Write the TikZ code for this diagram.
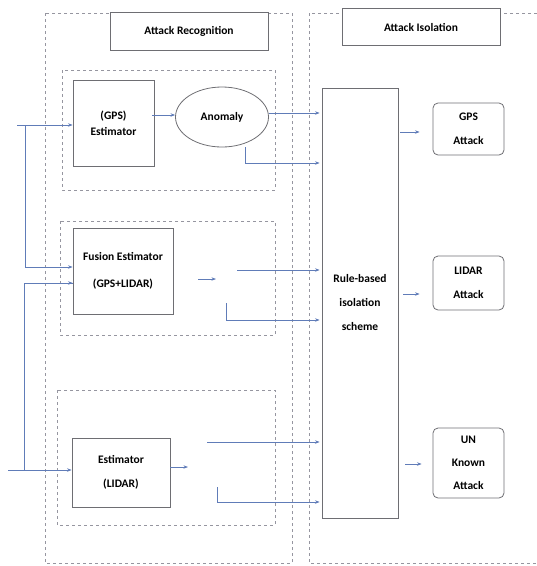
\documentclass[tikz,border=0pt]{standalone}
\usepackage{fontspec}
\setmainfont{Carlito}
\usepackage{xcolor}
\usepackage{tikz}
\usetikzlibrary{positioning,arrows.meta,calc,shapes.geometric}

\definecolor{lnblue}{RGB}{96,124,184}
\definecolor{boxgray}{RGB}{110,110,115}
\definecolor{dashgray}{RGB}{150,150,160}

\begin{document}
\begin{tikzpicture}[
  x=1pt, y=-1pt,
  block/.style={draw=boxgray, line width=0.8pt, font=\fontsize{11.5}{24}\selectfont\bfseries,
                align=center, inner sep=0pt},
  atk/.style={block, rounded corners=5pt},
  dbox/.style={draw=dashgray, dashed, line width=0.6pt},
  arr/.style={-{Stealth[length=1.6mm,width=1.2mm]}, draw=lnblue, line width=0.7pt},
  ln/.style={draw=lnblue, line width=0.7pt},
]
  \useasboundingbox (0,0) rectangle (537,566);

  % dashed frames
  \draw[dbox] (45,13) rectangle (292,563);
  \draw[dbox] (309,13) rectangle (560,563);
  \draw[dbox] (62,70) rectangle (275,190);
  \draw[dbox] (60,221) rectangle (275,335);
  \draw[dbox] (57,390) rectangle (275,525);

  % titles
  \node[block, fill=white, minimum width=158pt, minimum height=38pt] (recog) at (189,31) {Attack Recognition};
  \node[block, fill=white, minimum width=158pt, minimum height=37pt] (isol) at (421,27) {Attack Isolation};

  % estimators
  \node[block, minimum width=81pt, minimum height=86pt, font=\fontsize{11.5}{16}\selectfont\bfseries] (gpsest) at (113.5,123) {(GPS)\\Estimator};
  \node[block, ellipse, minimum width=93pt, minimum height=60pt] (anomaly) at (222,117) {Anomaly};
  \node[block, minimum width=100pt, minimum height=86pt, font=\fontsize{11.5}{27}\selectfont\bfseries] (fusion) at (123,271) {Fusion Estimator\\(GPS+LIDAR)};
  \node[block, minimum width=98pt, minimum height=69pt] (lidarest) at (121,472.5) {Estimator\\(LIDAR)};

  % isolation
  \node[block, minimum width=76pt, minimum height=430pt] (rule) at (360,303) {Rule-based\\isolation\\scheme};
  \node[atk, minimum width=71pt, minimum height=52pt] (gpsatk) at (468.5,129) {GPS\\Attack};
  \node[atk, minimum width=71pt, minimum height=54pt] (lidaratk) at (468.5,283) {LIDAR\\Attack};
  \node[atk, minimum width=71pt, minimum height=70pt, font=\fontsize{11.5}{23}\selectfont\bfseries] (unkatk) at (468.5,463) {UN\\Known\\Attack};

  % free ends
  \coordinate (in1) at (17,125);
  \coordinate (in2) at (8,470);
  \coordinate (fuout) at (216,279);
  \coordinate (fua) at (237,270);
  \coordinate (fub) at (226,303);
  \coordinate (liout) at (188,467);
  \coordinate (lia) at (207,442);
  \coordinate (lib) at (217,487);

  % inputs
  \draw[arr] (in1) -- (gpsest.west |- in1);
  \draw[arr] (25,125) |- (fusion.west |- 0,267);
  \draw[ln] (24,470) |- (fusion.west |- 0,283);
  \draw[arr] (24,283) -- (fusion.west |- 0,283);
  \draw[arr] (in2) -- (lidarest.west |- in2);

  % GPS branch
  \draw[arr] ($(gpsest.east)+(-2,-8)$) -- (anomaly.west |- 0,115);
  \draw[arr] (anomaly.east |- 0,113) -- ($(rule.west |- 0,113)+(-2,0)$);
  \draw[arr] (anomaly.south -| 245,0) |- ($(rule.west |- 0,163)+(-2,0)$);

  % fusion branch
  \draw[arr] (fusion.east |- fuout) ++(25,0) -- (fuout);
  \draw[arr] (fua) -- ($(rule.west |- fua)+(-2,0)$);
  \draw[arr] (fub) |- ($(rule.west |- 0,320)+(-2,0)$);

  % LIDAR branch
  \draw[arr] (lidarest.east |- liout) -- (liout);
  \draw[arr] (lia) -- ($(rule.west |- lia)+(-2,0)$);
  \draw[arr] (lib) |- ($(rule.west |- 0,502)+(-2,0)$);

  % outputs
  \draw[arr] ($(rule.east |- 0,132)+(2,0)$) -- ($(gpsatk.west |- 0,132)+(-13,0)$);
  \draw[arr] ($(rule.east |- 0,294)+(5,0)$) -- ($(lidaratk.west |- 0,294)+(-13,0)$);
  \draw[arr] ($(rule.east |- 0,464)+(7,0)$) -- ($(unkatk.west |- 0,464)+(-11,0)$);
\end{tikzpicture}
\end{document}
